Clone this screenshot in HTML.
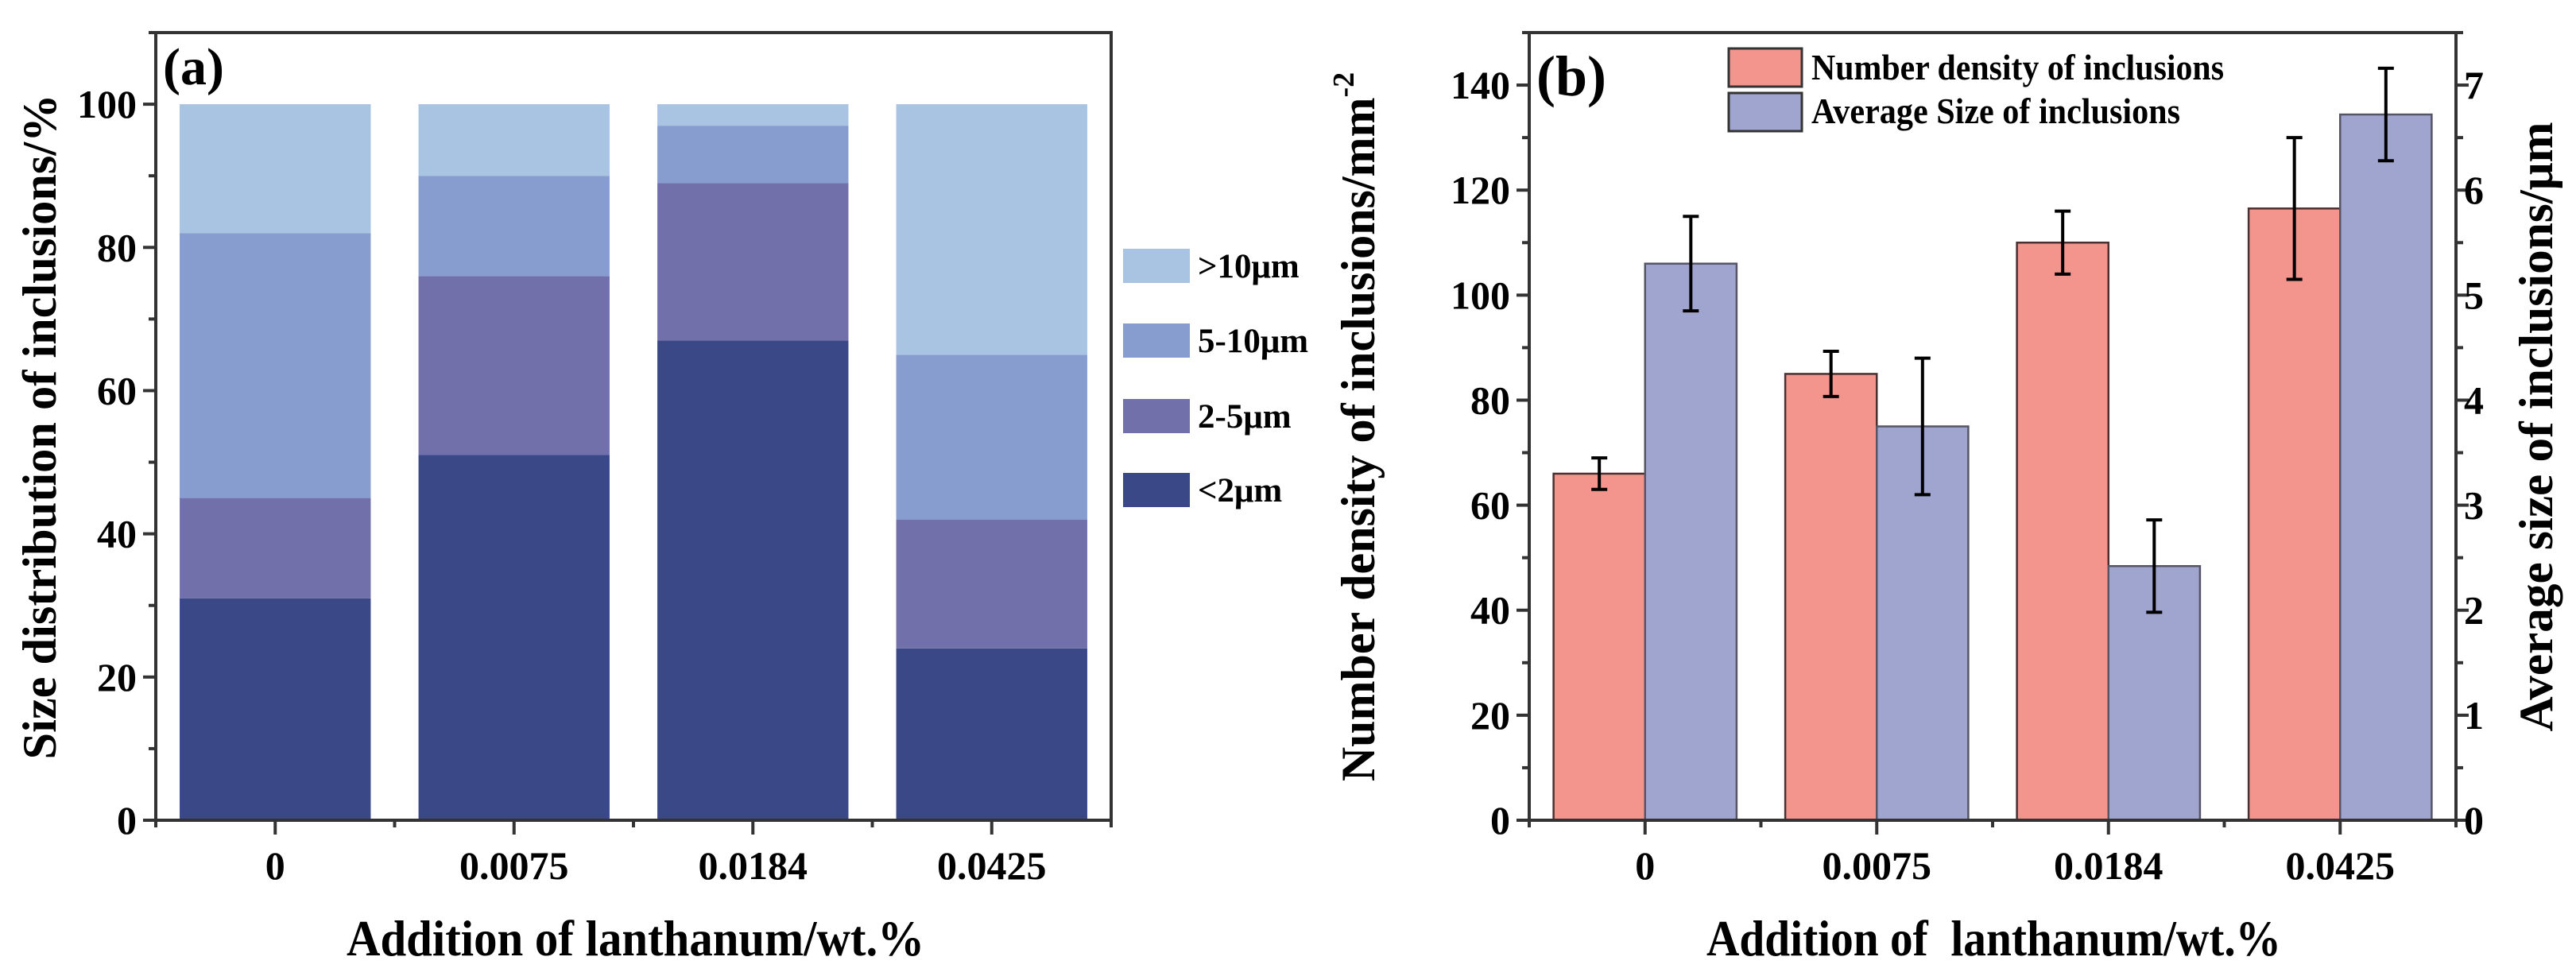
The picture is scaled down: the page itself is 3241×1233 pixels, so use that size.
<!DOCTYPE html>
<html><head><meta charset="utf-8"><style>
html,body{margin:0;padding:0;background:#fff}
svg{display:block}
text{font-family:"Liberation Serif",serif;font-weight:bold;fill:#000;white-space:pre}
</style></head><body>
<svg id="fig" width="3241" height="1233" viewBox="0 0 3241 1233" xmlns="http://www.w3.org/2000/svg"></svg>
<script>
// ---- Chart (a) data ----
const catsA = ["0", "0.0075", "0.0184", "0.0425"];
const seriesNamesA = ["<2μm", "2-5μm", "5-10μm", ">10μm"];
const lt2 = [31, 51, 67, 24];
const s2to5 = [14, 25, 22, 18];
const s5to10 = [37, 14, 8, 23];
const gt10 = [18, 10, 3, 35];
const ticksA = [0, 20, 40, 60, 80, 100];
// ---- Chart (b) data ----
const catsB = ["0", "0.0075", "0.0184", "0.0425"];
const density = [66, 85, 110, 116.5];
const densityErr = [3, 4.3, 6, 13.5];
const avgSize = [5.3, 3.75, 2.42, 6.72];
const avgSizeErr = [0.45, 0.65, 0.44, 0.44];
const ticksBL = [0, 20, 40, 60, 80, 100, 120, 140];
const ticksBR = [0, 1, 2, 3, 4, 5, 6, 7];

const NS = "http://www.w3.org/2000/svg";
const svg = document.getElementById('fig');
function el(tag, attrs, parent, txt) {
  const e = document.createElementNS(NS, tag);
  for (const k in attrs) e.setAttribute(k, attrs[k]);
  if (txt !== undefined) e.textContent = txt;
  (parent || svg).appendChild(e);
  return e;
}

// ================= Chart (a) =================
const A = {l: 196, r: 1398, t: 41, b: 1032, ymax: 110};
const gA = el('g', {});


const yA = v => A.b - v / A.ymax * (A.b - A.t);
const bwA = (A.r - A.l) / catsA.length;
const xA = i => A.l + bwA * (i + 0.5);
const colorsA = ["#3a4888", "#7170aa", "#879dd0", "#a9c3e2"];
const stacks = [lt2, s2to5, s5to10, gt10];
const keysA = ['lt2', '2-5', '5-10', 'gt10'];
catsA.forEach((c, i) => {
  let base = 0;
  stacks.forEach((s, k) => {
    const r = el('rect', {x: xA(i) - bwA * 0.4, y: yA(base + s[i]), width: bwA * 0.8, height: yA(base) - yA(base + s[i]), fill: colorsA[k]}, gA);
    
    
    base += s[i];
  });
});
const frA = el('rect', {x: A.l, y: A.t, width: A.r - A.l, height: A.b - A.t, fill: 'none', stroke: '#333', 'stroke-width': 4}, gA);


for (let v = 0; v <= 110; v += 10) {
  const major = v % 20 === 0;
  el('line', {x1: A.l, x2: A.l - (major ? 16 : 9), y1: yA(v), y2: yA(v), stroke: '#333', 'stroke-width': 4}, gA);
}
ticksA.forEach(v => {
  const t = el('text', {x: 172, y: yA(v) + 17, 'text-anchor': 'end', 'font-size': 50}, gA, String(v));
  
  
});
catsA.forEach((c, i) => {
  el('line', {x1: xA(i), x2: xA(i), y1: A.b, y2: A.b + 18, stroke: '#333', 'stroke-width': 4}, gA);
  el('line', {x1: A.l + bwA * (i + 1), x2: A.l + bwA * (i + 1), y1: A.b, y2: A.b + 9, stroke: '#333', 'stroke-width': 4}, gA);
  const t = el('text', {x: xA(i), y: 1106, 'text-anchor': 'middle', 'font-size': 50}, gA, c);
  
  
});
el('line', {x1: A.l, x2: A.l, y1: A.b, y2: A.b + 9, stroke: '#333', 'stroke-width': 4}, gA);
const pa = el('text', {x: 205, y: 106, 'font-size': 66}, gA, '(a)');


const ytA = el('text', {x: 0, y: 0, 'font-size': 60, 'text-anchor': 'middle', transform: 'translate(70,537) rotate(-90)', textLength: 837, lengthAdjust: 'spacingAndGlyphs'}, gA, 'Size distribution of inclusions/%');


const xtA = el('text', {x: 436, y: 1202, 'font-size': 64, textLength: 727, lengthAdjust: 'spacingAndGlyphs'}, gA, 'Addition of lanthanum/wt.%');


const legY = [313, 407, 502, 595];
const legOrder = [3, 2, 1, 0];
legOrder.forEach((k, j) => {
  const g = el('g', {}, gA);
  
  
  el('rect', {x: 1413, y: legY[j], width: 84, height: 43, fill: colorsA[k]}, g);
  el('text', {x: 1507, y: legY[j] + 36, 'font-size': 43}, g, seriesNamesA[k]);
});

// ================= Chart (b) =================
const B = {l: 1924, r: 3090, t: 41, b: 1032, ymax: 150};
const gB = el('g', {});


const yB = v => B.b - v / B.ymax * (B.b - B.t);
const yBR = v => yB(v * 20);
const bwB = (B.r - B.l) / catsB.length;
const xB = i => B.l + bwB * (i + 0.5);
const bw = bwB * 0.395;
catsB.forEach((c, i) => {
  const r1 = el('rect', {x: xB(i) - bw, y: yB(density[i]), width: bw, height: B.b - yB(density[i]), fill: '#f4958d', stroke: '#4a3030', 'stroke-width': 2.5}, gB);
  
  
  const r2 = el('rect', {x: xB(i), y: yBR(avgSize[i]), width: bw, height: B.b - yBR(avgSize[i]), fill: '#a0a5d0', stroke: '#555566', 'stroke-width': 2.5}, gB);
  
  
});
function errBar(x, y1, y2, name) {
  const g = el('g', {stroke: '#000', 'stroke-width': 4}, gB);
  
  
  el('line', {x1: x, x2: x, y1: y1, y2: y2}, g);
  el('line', {x1: x - 10, x2: x + 10, y1: y1, y2: y1}, g);
  el('line', {x1: x - 10, x2: x + 10, y1: y2, y2: y2}, g);
}
catsB.forEach((c, i) => {
  errBar(xB(i) - bw / 2, yB(density[i] - densityErr[i]), yB(density[i] + densityErr[i]), 'error-bar-density-' + c);
  errBar(xB(i) + bw / 2, yBR(avgSize[i] - avgSizeErr[i]), yBR(avgSize[i] + avgSizeErr[i]), 'error-bar-avg-size-' + c);
});
const frB = el('rect', {x: B.l, y: B.t, width: B.r - B.l, height: B.b - B.t, fill: 'none', stroke: '#333', 'stroke-width': 4}, gB);


for (let v = 0; v <= 150; v += 10) {
  const major = v % 20 === 0;
  el('line', {x1: B.l, x2: B.l - (major ? 16 : 9), y1: yB(v), y2: yB(v), stroke: '#333', 'stroke-width': 4}, gB);
  el('line', {x1: B.r, x2: B.r + (major ? 16 : 9), y1: yB(v), y2: yB(v), stroke: '#333', 'stroke-width': 4}, gB);
}
ticksBL.forEach(v => {
  const t = el('text', {x: 1900, y: yB(v) + 17, 'text-anchor': 'end', 'font-size': 50}, gB, String(v));
  
  
});
ticksBR.forEach(v => {
  const t = el('text', {x: 3100, y: yBR(v) + 17, 'font-size': 50}, gB, String(v));
  
  
});
catsB.forEach((c, i) => {
  el('line', {x1: xB(i), x2: xB(i), y1: B.b, y2: B.b + 18, stroke: '#333', 'stroke-width': 4}, gB);
  el('line', {x1: B.l + bwB * (i + 1), x2: B.l + bwB * (i + 1), y1: B.b, y2: B.b + 9, stroke: '#333', 'stroke-width': 4}, gB);
  const t = el('text', {x: xB(i), y: 1106, 'text-anchor': 'middle', 'font-size': 50}, gB, c);
  
  
});
el('line', {x1: B.l, x2: B.l, y1: B.b, y2: B.b + 9, stroke: '#333', 'stroke-width': 4}, gB);
const pb = el('text', {x: 1933, y: 120, 'font-size': 72}, gB, '(b)');


const ytB = el('text', {x: 0, y: 0, 'font-size': 60, 'text-anchor': 'middle', transform: 'translate(1729,537) rotate(-90)'}, gB);


el('tspan', {}, ytB, 'Number density of inclusions/mm');
el('tspan', {dy: -26, 'font-size': 38}, ytB, '-2');
const ytBR = el('text', {x: 0, y: 0, 'font-size': 60, 'text-anchor': 'middle', transform: 'translate(3211,537) rotate(-90)', textLength: 767, lengthAdjust: 'spacingAndGlyphs'}, gB, 'Average size of inclusions/μm');


const xtB = el('text', {x: 2147, y: 1202, 'font-size': 64, textLength: 723, lengthAdjust: 'spacingAndGlyphs'}, gB, 'Addition of  lanthanum/wt.%');


const lg1 = el('g', {}, gB);


el('rect', {x: 2175, y: 61, width: 92, height: 48, fill: '#f4958d', stroke: '#333', 'stroke-width': 3}, lg1);
el('text', {x: 2279, y: 100, 'font-size': 46, textLength: 519, lengthAdjust: 'spacingAndGlyphs'}, lg1, 'Number density of inclusions');
const lg2 = el('g', {}, gB);


el('rect', {x: 2175, y: 117, width: 92, height: 48, fill: '#a0a5d0', stroke: '#333', 'stroke-width': 3}, lg2);
el('text', {x: 2279, y: 155, 'font-size': 46, textLength: 464, lengthAdjust: 'spacingAndGlyphs'}, lg2, 'Average Size of inclusions');
</script>
</body></html>
